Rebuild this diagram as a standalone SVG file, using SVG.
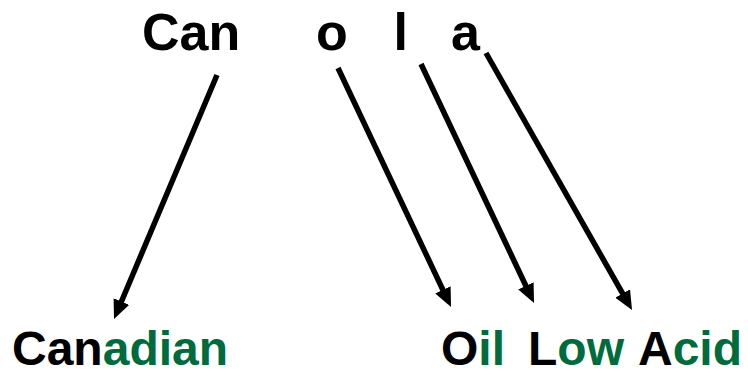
<svg xmlns="http://www.w3.org/2000/svg" width="748" height="374" viewBox="0 0 748 374">
<style>
text{font-family:"Liberation Sans",Arial,sans-serif;font-weight:bold;fill:#000}
.top{font-size:52px}
.bot{font-size:48px}
.g{fill:#006B3C}
.arr{stroke:#000;stroke-width:5.5;fill:none;marker-end:url(#ah)}
</style>
<defs>
<marker id="ah" markerUnits="userSpaceOnUse" markerWidth="19" markerHeight="17" viewBox="0 0 19 17" refX="7" refY="8.5" orient="auto">
<path d="M0,0 L19,8.5 L0,17 z" fill="#000"/>
</marker>
</defs>
<rect width="748" height="374" fill="#fff"/>
<g id="top-word">
<text class="top" x="142" y="50">Can</text>
<text class="top" x="316" y="50">o</text>
<text class="top" x="393.5" y="50">l</text>
<text class="top" x="451" y="50">a</text>
</g>
<g id="canadian"><text class="bot" x="12" y="365">Can<tspan class="g">adian</tspan></text></g>
<g id="oil"><text class="bot" x="441" y="365">O<tspan class="g">il</tspan></text></g>
<g id="low"><text class="bot" x="528" y="365">L<tspan class="g">ow</tspan></text></g>
<g id="acid"><text class="bot" x="638" y="365">A<tspan class="g">cid</tspan></text></g>
<g id="connectors">
<line class="arr" x1="217" y1="75" x2="118.7" y2="308"/>
<line class="arr" x1="338" y1="68" x2="445.9" y2="296.2"/>
<line class="arr" x1="421" y1="64" x2="528.9" y2="292.2"/>
<line class="arr" x1="486" y1="53" x2="626.1" y2="299.6"/>
</g>
</svg>
